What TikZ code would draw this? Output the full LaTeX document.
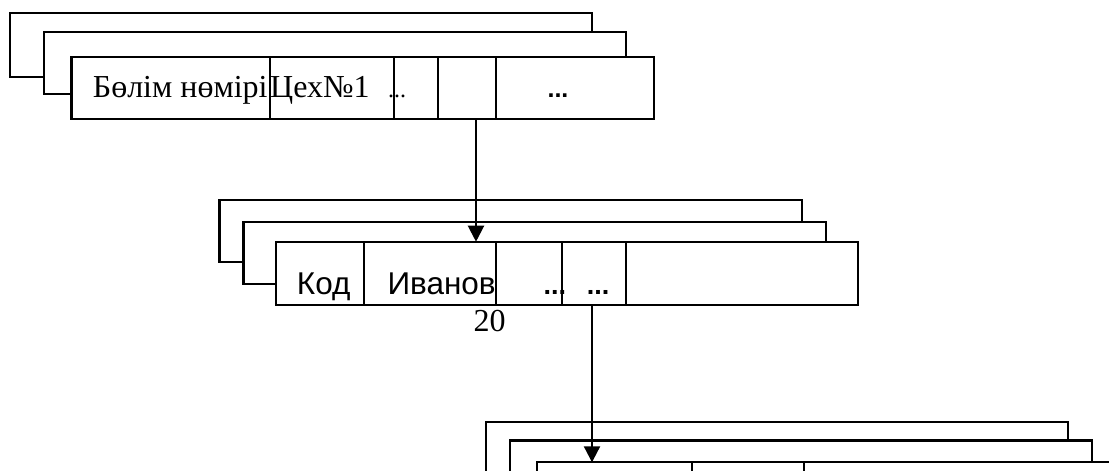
\documentclass[tikz,border=0pt]{standalone}
\usepackage{fontspec}
\setmainfont{Liberation Serif}
\newfontfamily\arialf{Liberation Sans}
\usetikzlibrary{arrows.meta}
\tikzset{
  box/.style={draw=black, fill=white, line width=2.2pt},
  cell/.style={draw=black, line width=2.2pt},
  conn/.style={draw=black, line width=2.2pt, -{Triangle[width=16pt,length=16pt]}},
  lbl/.style={inner sep=0pt, anchor=base west, font=\fontsize{32}{37}\selectfont},
  slbl/.style={inner sep=0pt, anchor=base west, font=\arialf\fontsize{31.5}{36}\selectfont},
  dots/.style={inner sep=0pt, anchor=base west, font=\arialf\bfseries\fontsize{27}{32}\selectfont},
}
\begin{document}
\begin{tikzpicture}[x=1pt,y=-1pt]
\useasboundingbox (0,0) rectangle (1109,471);
\clip (0,0) rectangle (1109,471);
\fill[white] (0,0) rectangle (1109,471);
% ---- top group
\draw[box] (9.8,13.3) rectangle (592,76.7);
\draw[box] (43.7,32.3) rectangle (625.7,94.3);
\draw[box] (71.4,56.7) rectangle (653.7,119);
\draw[cell] (270,56.7) -- (270,119);
\draw[cell] (394,56.7) -- (394,119);
\draw[cell] (438,56.7) -- (438,119);
\draw[cell] (496,56.7) -- (496,119);
\node[lbl] (t1) at (92.7,97.3) {Бөлім нөмірі};
\node[lbl] (t2) at (270,97.3) {Цех№1};
\node[lbl, font=\fontsize{24}{28}\selectfont] (t3) at (388,97.3) {...};
\node[dots, anchor=base, font=\arialf\bfseries\fontsize{25}{29}\selectfont] (t4) at (558,97.3) {...};
% ---- middle group
\draw[box] (219.5,200) rectangle (802,261.7);
\draw[box] (243.4,221.7) rectangle (825.8,284.3);
\draw[box] (276,241.7) rectangle (858.3,305);
\draw[cell] (364,241.7) -- (364,305);
\draw[cell] (496,241.7) -- (496,305);
\draw[cell] (562,241.7) -- (562,305);
\draw[cell] (626.3,241.7) -- (626.3,305);
\node[slbl] (m1) at (296.7,294) {Код};
\node[slbl] (m2) at (387.3,294) {Иванов};
\node[dots] (m3) at (543.3,294) {...};
\node[dots] (m4) at (586.7,294) {...};
\node[lbl, anchor=base] (pg) at (489.5,331.7) {20};
% ---- bottom group
\draw[box] (486.3,421.7) rectangle (1068,520);
\draw[box] (510,440.5) rectangle (1092,520);
\draw[box] (537.2,462.3) rectangle (1130,520);
\draw[cell] (692,462.3) -- (692,520);
\draw[cell] (804,462.3) -- (804,520);
% ---- connectors
\coordinate (a1s) at (476,119);
\coordinate (a1e) at (476,241.7);
\coordinate (a2s) at (592,305);
\coordinate (a2e) at (592,462.3);
\draw[conn] (a1s) -- (a1e);
\draw[conn] (a2s) -- (a2e);
\end{tikzpicture}
\end{document}
